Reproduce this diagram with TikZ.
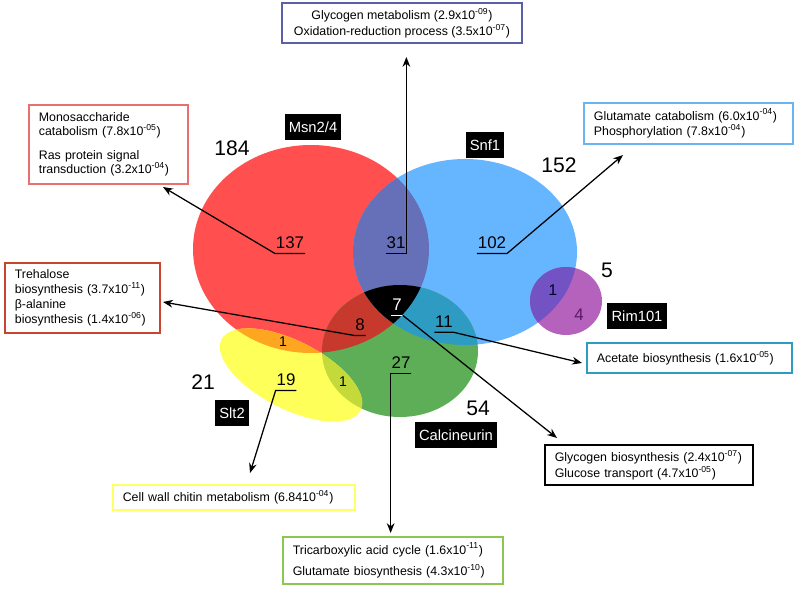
\documentclass[tikz,border=0pt]{standalone}
\usepackage{fontspec}
\setmainfont{Liberation Sans}
\usetikzlibrary{arrows.meta}

\definecolor{msnred}{HTML}{FF4F4F}
\definecolor{snfblue}{HTML}{66B5FF}
\definecolor{calgreen}{HTML}{5DAE57}
\definecolor{sltyellow}{HTML}{FFFF5A}
\definecolor{rimpurple}{HTML}{B562BC}
\definecolor{msnsnf}{HTML}{6670B8}
\definecolor{msncal}{HTML}{C8392D}
\definecolor{snfcal}{HTML}{2E9CC2}
\definecolor{msnslt}{HTML}{FFA620}
\definecolor{sltcal}{HTML}{C3DA3A}
\definecolor{msnsltcal}{HTML}{C8602A}
\definecolor{snfrim}{HTML}{7353C4}
\definecolor{rimtext}{HTML}{5B1A66}
\definecolor{topline}{HTML}{5B5EA8}
\definecolor{monoline}{HTML}{E8706E}
\definecolor{treline}{HTML}{C8442F}
\definecolor{gluline}{HTML}{6CB4F0}
\definecolor{chiline}{HTML}{FFFF66}
\definecolor{tcaline}{HTML}{8CC850}

% the five sets (pixel grid, y upwards)
\newcommand{\msnset}{(311,344) ellipse [x radius=118, y radius=104]}
\newcommand{\snfset}{(465,341) ellipse [x radius=112, y radius=93]}
\newcommand{\calset}{(400,242) ellipse [x radius=78, y radius=66]}
\newcommand{\sltset}{(291,218) ellipse [x radius=78, y radius=34]}
\newcommand{\rimset}{(566,292) ellipse [x radius=36, y radius=34]}

\tikzset{
  sltrot/.style={rotate around={-27:(291,218)}},
  setname/.style={fill=black, text=white, font=\fontsize{10.5}{12}\selectfont,
    inner xsep=3pt, inner ysep=0pt, minimum height=18pt},
  total/.style={font=\fontsize{15}{18}\selectfont},
  count/.style={font=\fontsize{12}{14}\selectfont, inner xsep=0.5pt, inner ysep=3pt},
  small/.style={font=\fontsize{10}{12}\selectfont},
  termbox/.style={draw=#1, line width=2pt, fill=white, align=left,
    inner xsep=7pt, font=\fontsize{8.8}{11}\selectfont},
  leader/.style={line width=0.9pt},
}

\begin{document}
\begin{tikzpicture}[x=0.025cm, y=0.025cm, >={Stealth[length=7pt,width=5.5pt]}]
	\useasboundingbox (0,0) rectangle (800,593);

	% sets
	\fill[msnred] \msnset;
	\fill[snfblue] \snfset;
	\fill[calgreen] \calset;
	\fill[sltyellow, sltrot] \sltset;
	\fill[rimpurple] \rimset;

	% overlaps
	\begin{scope} \clip \msnset; \fill[msnsnf] \snfset; \end{scope}
	\begin{scope} \clip \msnset; \fill[msncal] \calset; \end{scope}
	\begin{scope} \clip \snfset; \fill[snfcal] \calset; \end{scope}
	\begin{scope} \clip \msnset; \fill[msnslt, sltrot] \sltset; \end{scope}
	\begin{scope} \clip[sltrot] \sltset; \fill[sltcal] \calset; \end{scope}
	\begin{scope} \clip \msnset; \clip[sltrot] \sltset; \fill[msnsltcal] \calset; \end{scope}
	\begin{scope} \clip \msnset; \clip \snfset; \fill[black] \calset; \end{scope}
	\begin{scope} \clip \snfset; \fill[snfrim] \rimset; \end{scope}

	% set names and totals
	\node[setname] (nMsn) at (313,466) {Msn2/4};
	\node[setname] (nSnf) at (485,448) {Snf1};
	\node[setname] (nRim) at (637,277) {Rim101};
	\node[setname] (nSlt) at (232,180) {Slt2};
	\node[setname] (nCal) at (456,158) {Calcineurin};

	\node[total] (tMsn) at (232,445) {184};
	\node[total] (tSnf) at (559,428) {152};
	\node[total] (tRim) at (607,323) {5};
	\node[total] (tSlt) at (203,211) {21};
	\node[total] (tCal) at (478,185) {54};

	% counts
	\node[count] (c137) at (290,350) {137};
	\node[count] (c31) at (396,350) {31};
	\node[count] (c102) at (492,350) {102};
	\node[count, text=white] (c7) at (397,288) {7};
	\node[count] (c8) at (360,268) {8};
	\node[count] (c11) at (444,271) {11};
	\node[count] (c27) at (401,230) {27};
	\node[count] (c19) at (286,213) {19};
	\node[small] (c1a) at (283,251) {1};
	\node[small] (c1b) at (343,211) {1};
	\node[count, font=\fontsize{11}{13}\selectfont, text=black!85!blue] (c1c) at (553,303) {1};
	\node[count, text=rimtext] (c4) at (579,278) {4};

	% term boxes
	\node[termbox=topline, align=center, minimum width=6cm, minimum height=1cm,
		font=\fontsize{8.8}{11.4}\selectfont] (goTop) at (402,570)
		{Glycogen metabolism (2.9x10\textsuperscript{-09})\\Oxidation-reduction process (3.5x10\textsuperscript{-07})};
	\node[termbox=monoline, text width=3.48cm, minimum height=1.975cm,
		font=\fontsize{8.8}{10.3}\selectfont] (goMono) at (108.5,448.5)
		{Monosaccharide\\catabolism (7.8x10\textsuperscript{-05})\\[6.5pt]Ras protein signal\\transduction (3.2x10\textsuperscript{-04})};
	\node[termbox=treline, text width=3.38cm, minimum height=1.75cm,
		font=\fontsize{8.8}{10.7}\selectfont] (goTre) at (82.5,295)
		{Trehalose\\biosynthesis (3.7x10\textsuperscript{-11})\\β-alanine\\biosynthesis (1.4x10\textsuperscript{-06})};
	\node[termbox=gluline, text width=4.73cm, minimum height=1.025cm,
		font=\fontsize{8.8}{9.6}\selectfont] (goGlu) at (688.5,469.5)
		{Glutamate catabolism (6.0x10\textsuperscript{-04})\\Phosphorylation (7.8x10\textsuperscript{-04})};
	\node[termbox=snfcal, text width=4.63cm, minimum height=0.75cm] (goAce) at (689.5,235)
		{Acetate biosynthesis (1.6x10\textsuperscript{-05})};
	\node[termbox=black, text width=4.71cm, minimum height=1cm,
		font=\fontsize{8.8}{11.4}\selectfont] (goGly) at (649,128)
		{Glycogen biosynthesis (2.4x10\textsuperscript{-07})\\Glucose transport (4.7x10\textsuperscript{-05})};
	\node[termbox=chiline, text width=5.56cm, minimum height=0.625cm] (goChi) at (234,95.5)
		{Cell wall chitin metabolism (6.8410\textsuperscript{-04})};
	\node[termbox=tcaline, text width=5.01cm, minimum height=1.175cm,
		font=\fontsize{8.8}{15}\selectfont] (goTca) at (393,32.5)
		{Tricarboxylic acid cycle (1.6x10\textsuperscript{-11})\\Glutamate biosynthesis (4.3x10\textsuperscript{-10})};

	% arrow ends
	\coordinate (tipTop) at (408,536);
	\coordinate (tipMono) at (163,406);
	\coordinate (tipGlu) at (623,438);
	\coordinate (tipTre) at (163,291);
	\coordinate (tipGly) at (557,155);
	\coordinate (tipAce) at (582,230);
	\coordinate (tipTca) at (392,60);
	\coordinate (tipChi) at (250,120);

	% leaders
	\draw[leader, ->] (c137.south east) -- (c137.south west) -- (tipMono);
	\draw[leader, ->] (c31.south west) -- (c31.south east) -- (c31.south east |- tipTop);
	\draw[leader, ->] (c102.south west) -- (c102.south east) -- (tipGlu);
	\draw[leader, ->] (c8.south east) -- (c8.south west) -- (tipTre);
	\draw[leader, white] (c7.south west) -- (c7.south east);
	\draw[leader, ->] (c7.south east) -- (tipGly);
	\draw[leader, ->] (c11.south west) -- (c11.south east) -- (tipAce);
	\draw[leader, ->] (c27.south east) -- (c27.south west) -- (c27.south west |- tipTca);
	\draw[leader, ->] (c19.south east) -- (c19.south west) -- (tipChi);

\end{tikzpicture}
\end{document}
